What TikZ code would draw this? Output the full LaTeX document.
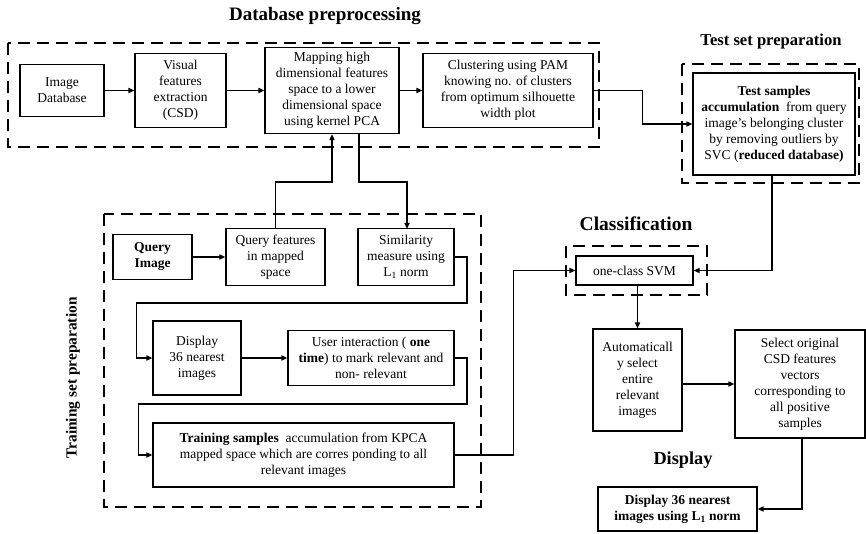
\documentclass[tikz,border=0pt]{standalone}
\usepackage{fontspec}
\setmainfont{Liberation Serif}
\usetikzlibrary{arrows.meta}
\begin{document}
\begin{tikzpicture}[x=1pt,y=-1pt,
  box/.style={draw, line width=1.1pt, inner sep=0pt, align=center,
    font=\fontsize{13.5}{16}\selectfont},
  group/.style={draw, line width=2.4pt, dash pattern=on 12pt off 7pt},
  conn/.style={line width=1.5pt, -{Triangle[length=6pt,width=5pt]}},
  plainline/.style={line width=1.5pt},
  title/.style={inner sep=0pt, font=\fontsize{19}{22}\selectfont\bfseries}]
\useasboundingbox (0,0) rectangle (866,534);

% group frames
\draw[group] (8,43) rectangle (599,147);
\draw[group] (682,64) rectangle (859,183);
\draw[group] (566,246) rectangle (707,295);
\draw[group] (104,214) rectangle (481,507);

% titles
\node[title] (tdb) at (325,16) {Database preprocessing};
\node[title, font=\fontsize{16.6}{19}\selectfont\bfseries] (ttest) at (771,42) {Test set preparation};
\node[title, font=\fontsize{19.5}{22}\selectfont\bfseries] (tclass) at (636,224) {Classification};
\node[title, font=\fontsize{18.3}{21}\selectfont\bfseries] (tdisp) at (683,460) {Display};
\node[title, font=\fontsize{15.4}{18}\selectfont\bfseries, rotate=90] (ttrain) at (73,378) {Training set preparation};

% database preprocessing
\node[box, minimum width=84pt, minimum height=52pt] (imgdb) at (62,90.5) {Image\\Database};
\node[box, minimum width=91pt, minimum height=74pt] (vf) at (180.5,90.5) {Visual\\features\\extraction\\(CSD)};
\node[box, minimum width=134pt, minimum height=86pt] (map) at (332,90.5) {Mapping high\\dimensional features\\space to a lower\\dimensional space\\using kernel PCA};
\node[box, minimum width=170pt, minimum height=74pt] (clust) at (508,90.5) {Clustering using PAM\\knowing no. of clusters\\from optimum silhouette\\width plot};

% test set
\node[box, minimum width=162pt, minimum height=102pt] (test) at (774,124) {\textbf{Test samples}\\\textbf{accumulation}\ \ from query\\image’s belonging cluster\\by removing outliers by\\SVC (\textbf{reduced database)}};

% classification
\node[box, minimum width=117pt, minimum height=29pt] (svm) at (634.5,270.5) {one-class SVM};

% training set
\node[box, minimum width=79pt, minimum height=45pt] (qi) at (152.5,257) {\textbf{Query}\\\textbf{Image}};
\node[box, minimum width=99pt, minimum height=57pt] (qf) at (275.5,257) {Query features\\in mapped\\space};
\node[box, minimum width=96pt, minimum height=57pt] (sim) at (406,257) {Similarity\\measure using\\L\textsubscript{1} norm};
\node[box, minimum width=88pt, minimum height=74pt] (d36) at (197,358) {Display\\36 nearest\\images};
\node[box, minimum width=166pt, minimum height=55pt] (user) at (371,358) {User interaction ( \textbf{one}\\\textbf{time}) to mark relevant and\\non- relevant};
\node[box, minimum width=301pt, minimum height=64pt] (train) at (303.5,455) {\textbf{Training samples}\ \ accumulation from KPCA\\mapped space which are corres ponding to all\\relevant images};

% right part
\node[box, minimum width=89pt, minimum height=102pt] (auto) at (637.5,380) {Automaticall\\y select\\entire\\relevant\\images};
\node[box, minimum width=130pt, minimum height=108pt] (sel) at (800,384) {Select original\\CSD features\\vectors\\corresponding to\\all positive\\samples};
\node[box, minimum width=159pt, minimum height=44pt] (dfin) at (677.5,509) {\textbf{Display 36 nearest}\\\textbf{images using L\textsubscript{1}\ norm}};

% connectors
\draw[conn] (imgdb.east) -- (vf.west);
\draw[conn] (vf.east) -- (map.west);
\draw[conn] (map.east) -- (clust.west);
\draw[conn] (clust.east) -- ++(49,0) |- (test.west);
\draw[conn] ([xshift=-2pt]test.south) |- (svm.east);
\draw[conn] (qf.north) |- (332,182) -- (map.south);
\draw[conn] ([xshift=27pt]map.south) |- (407,182) -- (407,229);
\draw[conn] (qi.east) -- (qf.west);
\draw[conn] (sim.east) -| (467,303) -| ([xshift=-16pt]d36.west) -- (d36.west);
\draw[conn] (d36.east) -- (user.west);
\draw[conn] (user.east) -| (467,404) -| ([xshift=-14pt]train.west) -- (train.west);
\draw[conn] (train.east) -| ([xshift=-62pt]svm.west) -- (svm.west);
\draw[conn] (auto.north |- svm.south) -- (auto.north);
\draw[conn] (auto.east |- sel.west) -- (sel.west);
\draw[conn] ([xshift=2pt]sel.south) |- (dfin.east);
\end{tikzpicture}
\end{document}
